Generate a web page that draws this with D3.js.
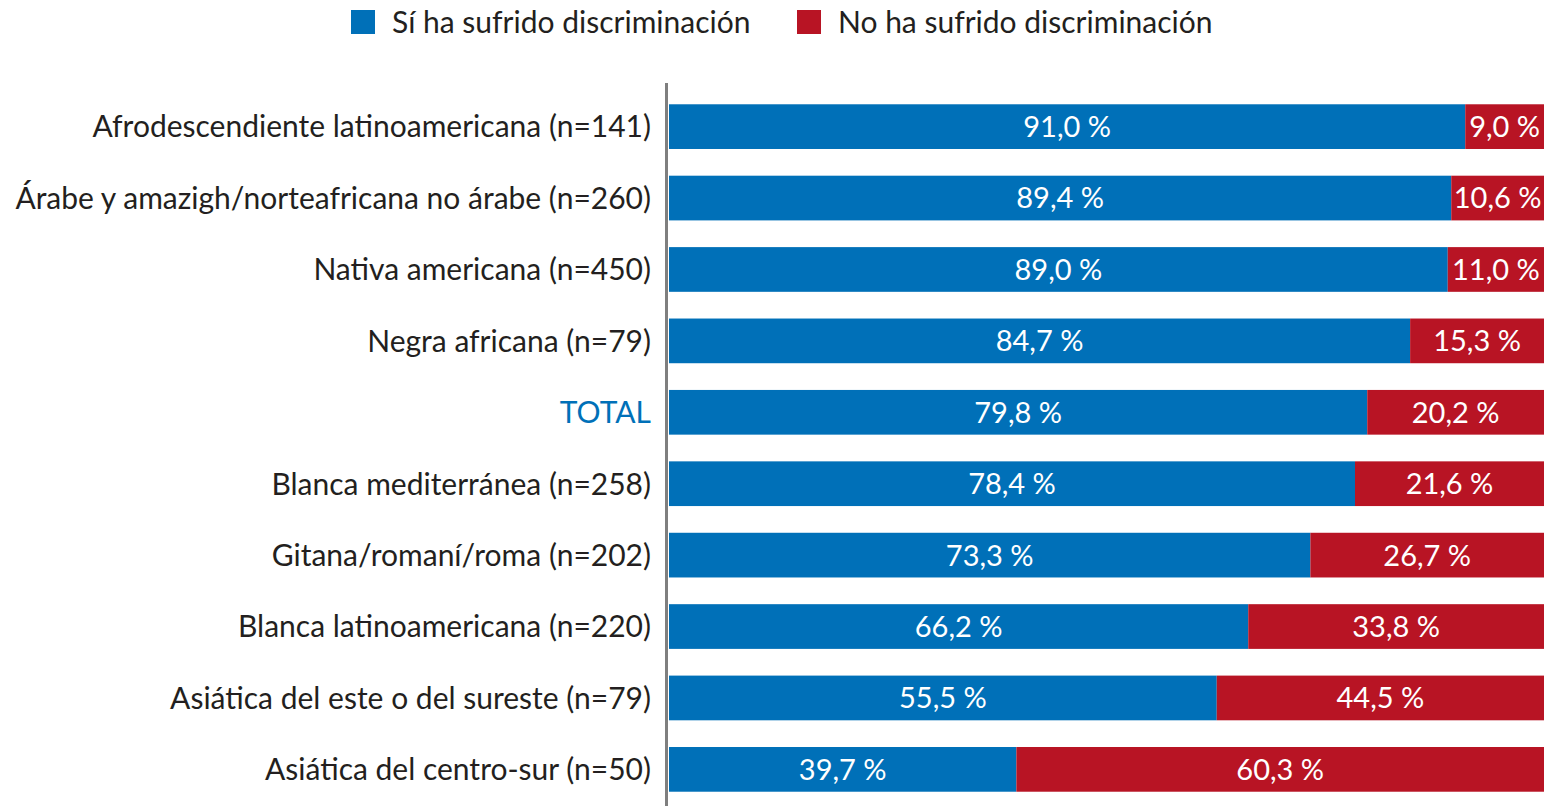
<!DOCTYPE html>
<html>
<head>
<meta charset="utf-8">
<script src="https://cdn.jsdelivr.net/npm/d3@7"></script>
<style>
  body { margin: 0; background: #fff; }
  svg { display: block; font-family: Lato, "Open Sans", sans-serif; }
</style>
</head>
<body>
<svg id="canvas" width="1544" height="806"></svg>
<script>
const categories = [
  "Afrodescendiente latinoamericana (n=141)",
  "Árabe y amazigh/norteafricana no árabe (n=260)",
  "Nativa americana (n=450)",
  "Negra africana (n=79)",
  "TOTAL",
  "Blanca mediterránea (n=258)",
  "Gitana/romaní/roma (n=202)",
  "Blanca latinoamericana (n=220)",
  "Asiática del este o del sureste (n=79)",
  "Asiática del centro-sur (n=50)"
];
// printed percentages
const siValues = [91.0, 89.4, 89.0, 84.7, 79.8, 78.4, 73.3, 66.2, 55.5, 39.7];
const noValues = [9.0, 10.6, 11.0, 15.3, 20.2, 21.6, 26.7, 33.8, 44.5, 60.3];
// bar length of the blue part as drawn in the source (row 9 is drawn longer than its label)
const siDrawn = [91.0, 89.4, 89.0, 84.7, 79.8, 78.4, 73.3, 66.2, 62.6, 39.7];
const seriesNames = ["Sí ha sufrido discriminación", "No ha sufrido discriminación"];
const colors = ["#0070b8", "#b81424"];

const width = 1544;
const height = 806;
const svg = d3.select("#canvas");

const rows = categories.map((c, i) => ({
  cat: c, si: siDrawn[i], no: 100 - siDrawn[i], siLabel: siValues[i], noLabel: noValues[i]
}));
const stack = d3.stack().keys(["si", "no"])(rows);

const x = d3.scaleLinear().domain([0, 100]).range([669, 1544]);
const y = d3.scaleBand().domain(categories).range([90, 806]).paddingInner(0.374).paddingOuter(0.2);

const fmt = v => v.toFixed(1).replace(".", ",") + " %";

// bars
const groups = svg.selectAll("g.series")
  .data(stack)
  .enter()
  .append("g")
  .attr("class", "series")
  .attr("fill", (d, i) => colors[i]);

groups.selectAll("rect")
  .data(d => d)
  .enter()
  .append("rect")
  .attr("x", d => x(d[0]))
  .attr("y", d => y(d.data.cat))
  .attr("width", d => x(d[1]) - x(d[0]))
  .attr("height", y.bandwidth());

groups.selectAll("text")
  .data(s => s.map(p => ({ p: p, v: p.data[s.key + "Label"] })))
  .enter()
  .append("text")
  .attr("x", d => (x(d.p[0]) + x(d.p[1])) / 2)
  .attr("y", d => y(d.p.data.cat) + y.bandwidth() / 2)
  .attr("dy", "0.36em")
  .attr("text-anchor", "middle")
  .attr("fill", "#fff")
  .style("font-size", "29px")
  .text(d => fmt(d.v));

// category labels
svg.selectAll("text.cat")
  .data(categories)
  .enter()
  .append("text")
  .attr("class", "cat")
  .attr("x", 651)
  .attr("y", d => y(d) + y.bandwidth() / 2)
  .attr("dy", "0.36em")
  .attr("text-anchor", "end")
  .attr("fill", d => d === "TOTAL" ? "#0070b8" : "#231f20")
  .style("font-size", "30px")
  .text(d => d);

// axis line
svg.append("line")
  .attr("x1", 666.5).attr("x2", 666.5)
  .attr("y1", 83).attr("y2", height)
  .attr("stroke", "#7f7f7f")
  .attr("stroke-width", 3);

// legend
const legendX = [351, 797];
const legend = svg.selectAll("g.legend")
  .data(seriesNames)
  .enter()
  .append("g")
  .attr("class", "legend")
  .attr("transform", (d, i) => `translate(${legendX[i]},10)`);

legend.append("rect")
  .attr("width", 24).attr("height", 24)
  .attr("fill", (d, i) => colors[i]);

legend.append("text")
  .attr("x", 41)
  .attr("y", 12)
  .attr("dy", "0.36em")
  .attr("fill", "#231f20")
  .style("font-size", "30px")
  .text(d => d);
</script>
</body>
</html>
